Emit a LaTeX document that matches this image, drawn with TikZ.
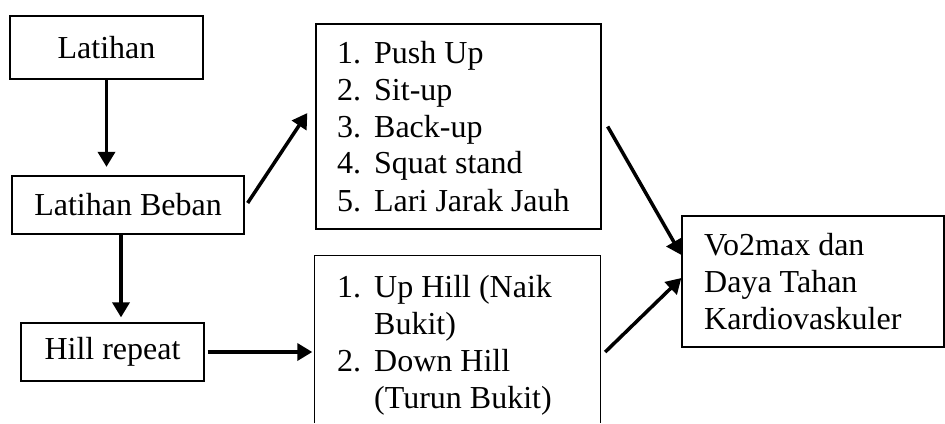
\documentclass[tikz,border=0pt]{standalone}
\usepackage{fontspec}
\setmainfont{Liberation Serif}
\usetikzlibrary{arrows.meta}
\begin{document}
\begin{tikzpicture}[x=1pt,y=-1pt,
  box/.style={draw,line width=1.3pt,inner sep=0pt,font=\fontsize{32}{37}\selectfont},
  txt/.style={inner sep=0pt,anchor=base west,font=\fontsize{32}{37}\selectfont},
  arr/.style={line width=3.5pt,-{Triangle[length=15pt,width=17pt]}}]
\useasboundingbox (0,0) rectangle (945,423);
% boxes
\node[box,minimum width=193pt,minimum height=63pt] (lat) at (106.5,47.5) {Latihan};
\node[box,minimum width=232pt,minimum height=58pt] (beb) at (128,205) {Latihan Beban};
\node[box,minimum width=183pt,minimum height=58pt] (hill) at (112.5,352) {Hill repeat};
\node[box,minimum width=285pt,minimum height=205pt] (b1) at (458.5,126.5) {};
\node[inner sep=0pt,minimum width=285pt,minimum height=167pt] (b2) at (457.5,339.5) {};
\draw[line width=1.3pt] (b2.south west) -- (b2.north west) -- (b2.north east) -- (b2.south east);
\node[box,minimum width=262pt,minimum height=131pt] (vo) at (813,281.5) {};
% texts
\node[txt] (t1) at (337,63) {\begin{tabular}[t]{@{}l@{}}
\makebox[37pt][l]{1.}Push Up\\
\makebox[37pt][l]{2.}Sit-up\\
\makebox[37pt][l]{3.}Back-up\\
\makebox[37pt][l]{4.}Squat stand\\
\makebox[37pt][l]{5.}Lari Jarak Jauh
\end{tabular}};
\node[txt] (t2) at (337,297) {\begin{tabular}[t]{@{}l@{}}
\makebox[37pt][l]{1.}Up Hill (Naik\\
\makebox[37pt][l]{}Bukit)\\
\makebox[37pt][l]{2.}Down Hill\\
\makebox[37pt][l]{}(Turun Bukit)
\end{tabular}};
\node[txt] (t3) at (704,255) {\begin{tabular}[t]{@{}l@{}}
Vo2max dan\\
Daya Tahan\\
Kardiovaskuler
\end{tabular}};
% arrows
\draw[arr,shorten >=8.5pt] (lat.south) -- (lat.south |- beb.north);
\draw[arr,shorten >=5pt] ([xshift=-7pt]beb.south) -- ([xshift=-7pt]beb.south |- hill.north);
\draw[arr] ([shift={(3,-2)}]beb.east) -- ([shift={(-8,-13.5)}]b1.west);
\draw[arr,shorten >=2.5pt] ([xshift=3pt]hill.east) -- (hill.east -| b2.west);
\draw[arr] ([shift={(6,0)}]b1.east) -- ([shift={(0,-26.5)}]vo.west);
\draw[arr] ([shift={(5,12.5)}]b2.east) -- ([shift={(0,-3.5)}]vo.west);
\end{tikzpicture}
\end{document}
